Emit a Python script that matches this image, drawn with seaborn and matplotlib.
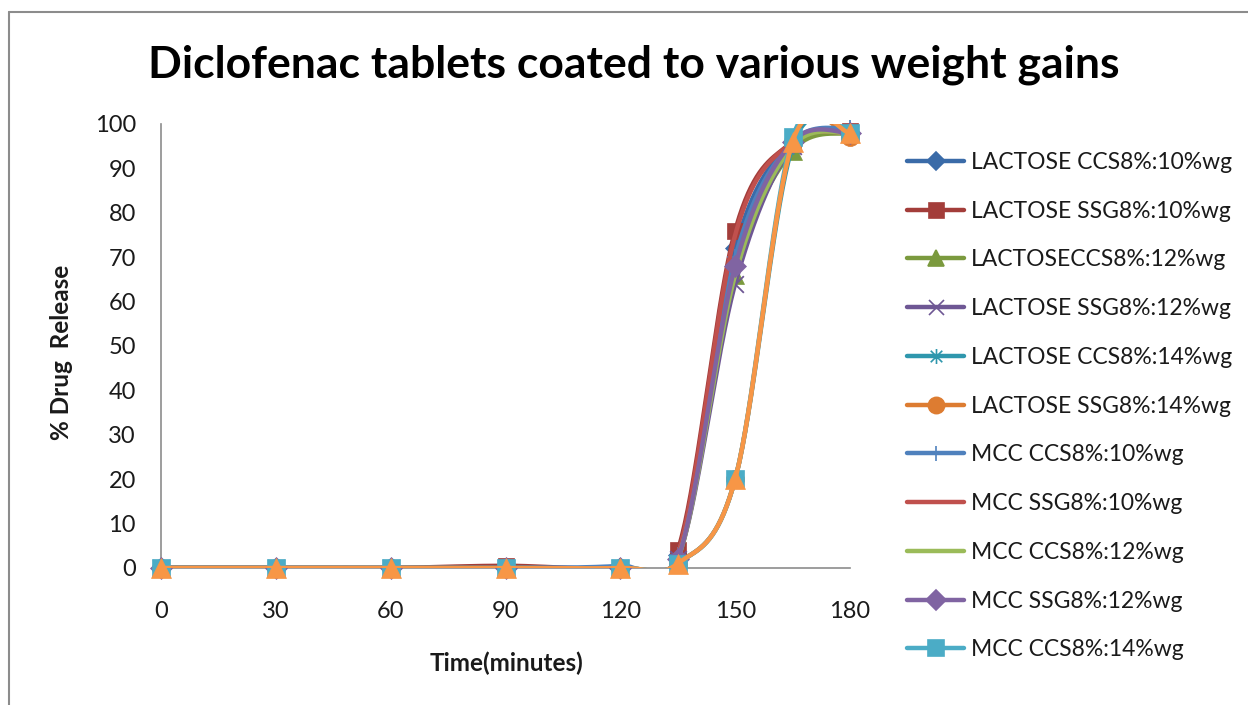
import numpy as np
import pandas as pd
import matplotlib
matplotlib.use("Agg")
import matplotlib.pyplot as plt
import seaborn as sns
from matplotlib.lines import Line2D
from matplotlib.path import Path

# ---------------- data ----------------
time_min = [0, 30, 60, 90, 120, 135, 150, 165, 180]

series_names = [
    "LACTOSE CCS8%:10%wg",
    "LACTOSE SSG8%:10%wg",
    "LACTOSECCS8%:12%wg",
    "LACTOSE SSG8%:12%wg",
    "LACTOSE CCS8%:14%wg",
    "LACTOSE SSG8%:14%wg",
    "MCC CCS8%:10%wg",
    "MCC SSG8%:10%wg",
    "MCC CCS8%:12%wg",
    "MCC SSG8%:12%wg",
    "MCC CCS8%:14%wg",
    "MCC SSG8%:14%wg",
]

lac_ccs_10 = [0, 0, 0, 0, 0, 3.0, 72, 96, 98]
lac_ssg_10 = [0, 0, 0, 0.5, 0, 4.0, 76, 96, 98.5]
lac_ccs_12 = [0, 0, 0, 0, 0, 2.0, 66, 94, 98]
lac_ssg_12 = [0, 0, 0, 0, 0, 2.0, 64, 95, 98]
lac_ccs_14 = [0, 0, 0, 0, 0, 1.0, 20, 95, 98]
lac_ssg_14 = [0, 0, 0, 0, 0, 1.0, 20, 96, 97]
mcc_ccs_10 = [0, 0, 0, 0, 0.5, 3.0, 70, 96, 99]
mcc_ssg_10 = [0, 0, 0, 0, 0, 3.0, 75, 96, 98]
mcc_ccs_12 = [0, 0, 0, 0, 0, 2.0, 66, 95, 98]
mcc_ssg_12 = [0, 0, 0, 0, 0, 2.0, 68, 96, 98]
mcc_ccs_14 = [0, 0, 0, 0, 0, 1.0, 20, 97, 98]
mcc_ssg_14 = [0, 0, 0, 0, 0, 1.0, 20, 96, 98]

series_values = [lac_ccs_10, lac_ssg_10, lac_ccs_12, lac_ssg_12, lac_ccs_14,
                 lac_ssg_14, mcc_ccs_10, mcc_ssg_10, mcc_ccs_12, mcc_ssg_12,
                 mcc_ccs_14, mcc_ssg_14]

x_ticks = [0, 30, 60, 90, 120, 150, 180]
y_ticks = [0, 10, 20, 30, 40, 50, 60, 70, 80, 90, 100]

# ---------------- styles ----------------
colors = ["#3A6BA8", "#A33D3A", "#7B9A3E", "#6E5794", "#2F97AD", "#DD7C31",
          "#4F81BD", "#C0504D", "#9BBB59", "#8064A2", "#4BACC6", "#F79646"]

star_path = Path([(-1, -1), (1, 1), (-1, 1), (1, -1), (0, -1.3), (0, 1.3)],
                 [Path.MOVETO, Path.LINETO, Path.MOVETO, Path.LINETO,
                  Path.MOVETO, Path.LINETO])
x_path = Path([(-1, -1), (1, 1), (-1, 1), (1, -1)],
              [Path.MOVETO, Path.LINETO, Path.MOVETO, Path.LINETO])
plus_path = Path([(0, -1), (0, 1), (-1, 0), (1, 0)],
                 [Path.MOVETO, Path.LINETO, Path.MOVETO, Path.LINETO])

markers = ["D", "s", "^", x_path, star_path, "o", plus_path, None, None, "D", "s", "^"]
msizes = [10, 12, 13, 12, 12, 13, 12, 0, 0, 11, 13, 15]
in_legend = [True] * 11 + [False]


def excel_smooth(xs, ys, n=40):
    """Bezier smoothing like Excel's 'smoothed line' option."""
    xs = np.asarray(xs, float)
    ys = np.asarray(ys, float)
    P = np.column_stack([xs, ys])
    m = len(P)
    out = []
    for i in range(m - 1):
        p0 = P[i]
        p3 = P[i + 1]
        pm = P[i - 1] if i > 0 else P[i]
        pp = P[i + 2] if i + 2 < m else P[i + 1]
        c1 = p0 + (p3 - pm) / 6.0
        c2 = p3 - (pp - p0) / 6.0
        t = np.linspace(0, 1, n, endpoint=(i == m - 2))[:, None]
        seg = ((1 - t) ** 3) * p0 + 3 * ((1 - t) ** 2) * t * c1 + 3 * (1 - t) * t ** 2 * c2 + t ** 3 * p3
        out.append(seg)
    arr = np.vstack(out)
    return arr[:, 0], arr[:, 1]


rows = []
for name, vals in zip(series_names, series_values):
    sx, sy = excel_smooth(time_min, vals)
    for k, (a, b) in enumerate(zip(sx, sy)):
        rows.append({"series": name, "order": k, "time": a, "release": b})
smooth_df = pd.DataFrame(rows)

# ---------------- figure ----------------
sns.set_theme(style="white")
plt.rcParams["font.family"] = ["Lato", "DejaVu Sans"]

W, H = 1248, 705
fig = plt.figure(figsize=(W / 100, H / 100), dpi=100)
fig.patch.set_facecolor("white")
ax = fig.add_axes([161 / W, 1 - 568 / H, (850 - 161) / W, (568 - 124) / H])
ax.set_facecolor("white")

for i, name in enumerate(series_names):
    sub = smooth_df[smooth_df["series"] == name]
    sns.lineplot(data=sub, x="time", y="release", sort=False, estimator=None,
                 color=colors[i], linewidth=3.2, ax=ax, legend=False,
                 zorder=2 + i * 0.1)
    if markers[i] is not None:
        is_line = markers[i] in (x_path, star_path, plus_path)
        ax.plot(time_min, series_values[i], linestyle="none", marker=markers[i],
                markersize=msizes[i], color=colors[i],
                markeredgecolor=colors[i], markeredgewidth=1.3 if is_line else 0.5,
                clip_on=False, zorder=2 + i * 0.1 + 0.05)

ax.set_xlim(0, 180)
ax.set_ylim(0, 100)
ax.set_xticks(x_ticks)
ax.set_yticks(y_ticks)
ax.tick_params(axis="both", which="major", direction="out", length=7, width=1,
               color="#8C8C8C", labelsize=17, labelcolor="#1A1A1A")
ax.tick_params(axis="y", pad=11)
ax.tick_params(axis="x", pad=17)
for side in ["top", "right"]:
    ax.spines[side].set_visible(False)
for side in ["left", "bottom"]:
    ax.spines[side].set_color("#8C8C8C")
    ax.spines[side].set_linewidth(1.2)
ax.set_xlabel("")
ax.set_ylabel("")

fig.text(507 / W, 1 - 663 / H, "Time(minutes)", ha="center", va="center",
         fontsize=17.5, fontweight="bold", color="#1A1A1A")
fig.text(62 / W, 1 - 352 / H, "% Drug  Release", ha="center", va="center",
         rotation=90, fontsize=17.5, fontweight="bold", color="#1A1A1A")
fig.text(634 / W, 1 - 65 / H, "Diclofenac tablets coated to various weight gains",
         ha="center", va="center", fontsize=32, fontweight="bold", color="black")

# legend
handles = []
labels = []
for i, name in enumerate(series_names):
    if not in_legend[i]:
        continue
    h = Line2D([0], [0], color=colors[i], linewidth=3.2,
               marker=markers[i] if markers[i] is not None else None,
               markersize=msizes[i] * 0.9, markeredgecolor=colors[i],
               markeredgewidth=1.2)
    handles.append(h)
    labels.append(name)
leg = fig.legend(handles, labels, loc="upper left",
                 bbox_to_anchor=(907 / W, 1 - 152 / H), frameon=False,
                 fontsize=16.5, handlelength=2.5, handletextpad=0.3,
                 labelspacing=1.21, borderpad=0, borderaxespad=0)
for t in leg.get_texts():
    t.set_color("#1A1A1A")

# outer frame of the chart area
fig.add_artist(Line2D([9 / W, 9 / W], [0, 1 - 12 / H], transform=fig.transFigure,
                      color="#8C8C8C", linewidth=1.5))
fig.add_artist(Line2D([9 / W, 1], [1 - 12 / H, 1 - 12 / H], transform=fig.transFigure,
                      color="#8C8C8C", linewidth=1.5))

fig.savefig("out.png", dpi=100, facecolor="white")
